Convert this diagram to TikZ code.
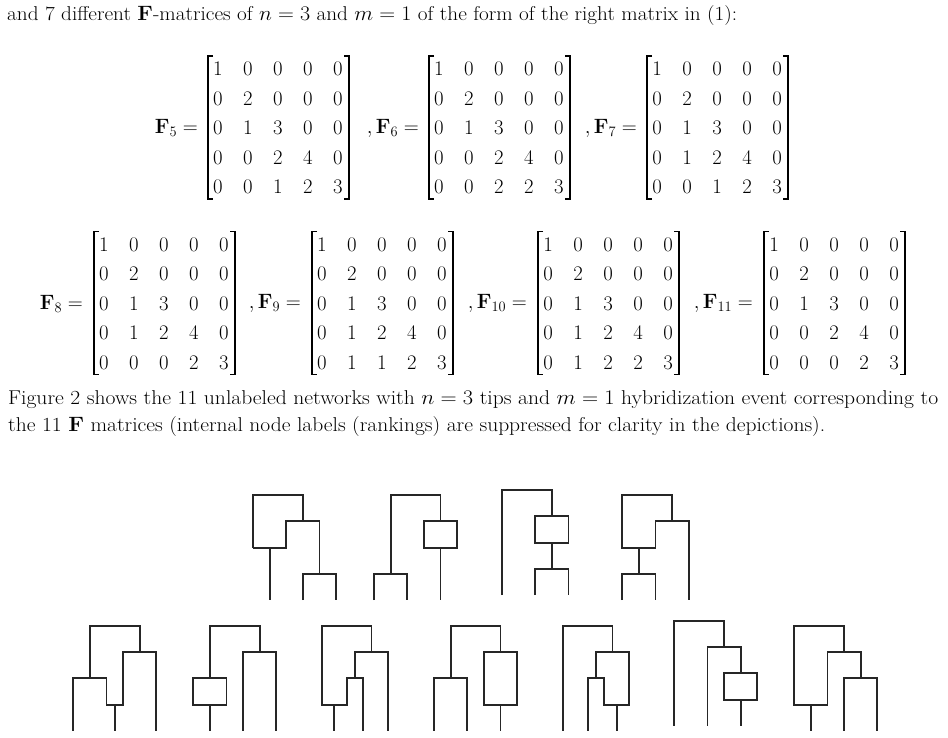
\documentclass[tikz,border=0pt]{standalone}
\usepackage{amsmath}
\usetikzlibrary{matrix,calc}
\tikzset{
  fm/.style={matrix of math nodes, anchor=center, inner sep=0pt,
    nodes={minimum width=30pt, minimum height=29.5pt, inner sep=0pt, anchor=center},
    column sep=0pt, row sep=0pt},
  brk/.style={line width=1.1pt},
  net/.style={line width=1.8pt, draw=black!85, line join=miter},
  lbl/.style={anchor=east, inner sep=0pt},
  txt/.style={anchor=base west, inner sep=0pt}
}
\newcommand\brackets[1]{%
  \draw[brk] ($(#1-1-1.center)+(-5,-13)$) -| ($(#1-5-1.center)+(-10,12)$) -- ++(5,0);
  \draw[brk] ($(#1-1-5.center)+(6,-13)$) -| ($(#1-5-5.center)+(11,12)$) -- ++(-5,0);}
\newcommand\tree[3]{\begin{scope}[shift={(#1,#2)}, x=16.6pt, y=-26.3pt]#3\end{scope}}
\begin{document}
\fontsize{20}{24}\selectfont
\begin{tikzpicture}[x=1pt,y=-1pt]
\useasboundingbox (0,0) rectangle (948,738);
\node[txt] (t1) at (7,21) {\resizebox{730pt}{\height}{and 7 different $\mathbf F$-matrices of $n=3$ and $m=1$ of the form of the right matrix in (1):}};
% row 1
\matrix[fm] (m5) at (278,128) {1&0&0&0&0\\0&2&0&0&0\\0&1&3&0&0\\0&0&2&4&0\\0&0&1&2&3\\};
\matrix[fm] (m6) at (499,128) {1&0&0&0&0\\0&2&0&0&0\\0&1&3&0&0\\0&0&2&4&0\\0&0&2&2&3\\};
\matrix[fm] (m7) at (717,128) {1&0&0&0&0\\0&2&0&0&0\\0&1&3&0&0\\0&1&2&4&0\\0&0&1&2&3\\};
\node[lbl] (l5) at ($(m5-3-1.center)+(-20,0)$) {$\mathbf F_5 =$};
\node[lbl] (l6) at ($(m6-3-1.center)+(-20,0)$) {$,\mathbf F_6 =$};
\node[lbl] (l7) at ($(m7-3-1.center)+(-20,0)$) {$,\mathbf F_7 =$};
\brackets{m5}\brackets{m6}\brackets{m7}
% row 2
\matrix[fm] (m8) at (164,303.5) {1&0&0&0&0\\0&2&0&0&0\\0&1&3&0&0\\0&1&2&4&0\\0&0&0&2&3\\};
\matrix[fm] (m9) at (382,303.5) {1&0&0&0&0\\0&2&0&0&0\\0&1&3&0&0\\0&1&2&4&0\\0&1&1&2&3\\};
\matrix[fm] (m10) at (608,303.5) {1&0&0&0&0\\0&2&0&0&0\\0&1&3&0&0\\0&1&2&4&0\\0&1&2&2&3\\};
\matrix[fm] (m11) at (834,303.5) {1&0&0&0&0\\0&2&0&0&0\\0&1&3&0&0\\0&0&2&4&0\\0&0&0&2&3\\};
\node[lbl] (l8) at ($(m8-3-1.center)+(-21,0)$) {$\mathbf F_8 =$};
\node[lbl] (l9) at ($(m9-3-1.center)+(-21,0)$) {$,\mathbf F_9 =$};
\node[lbl] (l10) at ($(m10-3-1.center)+(-21,0)$) {$,\mathbf F_{10} =$};
\node[lbl] (l11) at ($(m11-3-1.center)+(-21,0)$) {$,\mathbf F_{11} =$};
\brackets{m8}\brackets{m9}\brackets{m10}\brackets{m11}
% paragraph
\node[txt] (t2) at (8,404) {\resizebox{930pt}{\height}{Figure 2 shows the 11 unlabeled networks with $n=3$ tips and $m=1$ hybridization event corresponding to}};
\node[txt] (t3) at (8,431) {\resizebox{817pt}{\height}{the 11 $\mathbf F$ matrices (internal node labels (rankings) are suppressed for clarity in the depictions).}};
% networks, row 1
\tree{253}{495}{\draw[net] (0,2)--(0,0)--(3,0)--(3,1); \draw[net] (0,2)--(2,2)--(2,1)--(4,1)--(4,3);
  \draw[net] (1,2)--(1,4); \draw[net] (3,4)--(3,3)--(5,3)--(5,4);}
\tree{374}{495}{\draw[net] (1,3)--(1,0)--(4,0)--(4,1); \draw[net] (0,4)--(0,3)--(2,3)--(2,4);
  \draw[net] (3,1) rectangle (5,2); \draw[net] (4,2)--(4,4);}
\tree{502}{490}{\draw[net] (0,4)--(0,0)--(3,0)--(3,1); \draw[net] (2,1) rectangle (4,2);
  \draw[net] (3,2)--(3,3); \draw[net] (2,4)--(2,3)--(4,3)--(4,4);}
\tree{622.3}{495}{\draw[net] (3,1)--(3,0)--(0,0)--(0,2)--(2,2)--(2,1)--(4,1)--(4,4);
  \draw[net] (1,2)--(1,3); \draw[net] (0,4)--(0,3)--(2,3)--(2,4);}
% networks, row 2
\tree{73.3}{625.7}{\draw[net] (1,2)--(1,0)--(4,0)--(4,1); \draw[net] (0,4)--(0,2)--(2,2)--(2,3)--(3,3)--(3,1)--(5,1)--(5,4);
  \draw[net] (2.5,3)--(2.5,4);}
\tree{193.3}{625.7}{\draw[net] (1,2)--(1,0)--(4,0)--(4,1); \draw[net] (0,2) rectangle (2,3);
  \draw[net] (1,3)--(1,4); \draw[net] (3,4)--(3,1)--(5,1)--(5,4);}
\tree{321.7}{625.7}{\draw[net] (3,1)--(3,0)--(0,0)--(0,3)--(1.5,3)--(1.5,2)--(2.5,2)--(2.5,4);
  \draw[net] (2,2)--(2,1)--(4,1)--(4,4); \draw[net] (0.75,3)--(0.75,4);}
\tree{434}{625.7}{\draw[net] (1,2)--(1,0)--(4,0)--(4,1); \draw[net] (0,4)--(0,2)--(2,2)--(2,4);
  \draw[net] (3,1) rectangle (5,3); \draw[net] (4,3)--(4,4);}
\tree{562.7}{625.7}{\draw[net] (0,4)--(0,0)--(3,0)--(3,1);
  \draw[net] (2,2)--(2,1)--(4,1)--(4,3)--(2.5,3)--(2.5,2)--(1.5,2)--(1.5,4); \draw[net] (3.25,3)--(3.25,4);}
\tree{674.3}{620.7}{\draw[net] (0,4)--(0,0)--(3,0)--(3,1); \draw[net] (2,4)--(2,1)--(4,1)--(4,2);
  \draw[net] (3,2) rectangle (5,3); \draw[net] (4,3)--(4,4);}
\tree{794.3}{625.7}{\draw[net] (3,1)--(3,0)--(0,0)--(0,3)--(2,3)--(2,1)--(4,1)--(4,2);
  \draw[net] (1,3)--(1,4); \draw[net] (3,4)--(3,2)--(5,2)--(5,4);}
\end{tikzpicture}
\end{document}
